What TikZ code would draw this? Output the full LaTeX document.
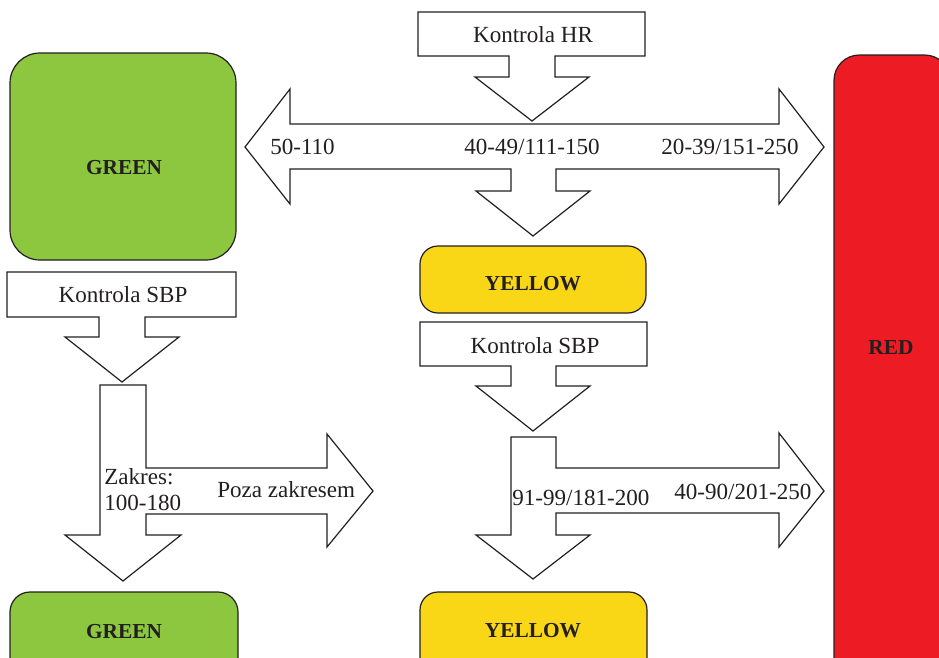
\documentclass[tikz,border=0pt]{standalone}
\usepackage{fontspec}
\setmainfont{Liberation Serif}
\definecolor{boxgreen}{RGB}{141,198,63}
\definecolor{boxyellow}{RGB}{249,215,22}
\definecolor{boxred}{RGB}{237,28,36}
\definecolor{inkgray}{RGB}{35,31,32}
\begin{document}
\begin{tikzpicture}[x=0.75pt,y=-0.75pt,
  outline/.style={draw=inkgray, line width=0.9pt, line join=miter},
  blockarrow/.style={outline, fill=white},
  lampbox/.style={outline},
  lbl/.style={font=\fontsize{17.3}{20}\selectfont, text=inkgray, inner sep=0pt, anchor=base},
  lampname/.style={font=\fontsize{16}{19}\selectfont\bfseries, text=inkgray, inner sep=0pt, anchor=base}
]
\useasboundingbox (0,0) rectangle (939,657);
\clip (0,0) rectangle (939,657);

% status boxes
\draw[lampbox, fill=boxgreen, rounded corners=22.5pt] (10,53) rectangle (236,260);
\draw[lampbox, fill=boxred, rounded corners=19pt] (834,55) rectangle (950,720);
\draw[lampbox, fill=boxyellow, rounded corners=13.5pt] (420,246) rectangle (646,313);
\draw[lampbox, fill=boxyellow, rounded corners=13.5pt] (420,592) rectangle (647,720);
\draw[lampbox, fill=boxgreen, rounded corners=15pt] (10,592) rectangle (238,720);

% heart rate check: box with downward arrow
\draw[blockarrow] (418,12) -- (645,12) -- (645,56) -- (555,56) -- (555,77) -- (589,77)
  -- (532,121) -- (475,77) -- (509,77) -- (509,56) -- (418,56) -- cycle;

% heart rate ranges: double arrow with branch down
\draw[blockarrow] (290,124) -- (779,124) -- (779,89) -- (824,147) -- (779,204) -- (779,169)
  -- (556,169) -- (556,191) -- (590,191) -- (533,236) -- (476,191) -- (511,191) -- (511,169)
  -- (290,169) -- (290,204) -- (245,147) -- (290,89) -- cycle;

% blood pressure check under GREEN
\draw[blockarrow] (7,272) -- (236,272) -- (236,317) -- (145,317) -- (145,337) -- (179,337)
  -- (122,382) -- (65,337) -- (99,337) -- (99,317) -- (7,317) -- cycle;
\draw[blockarrow] (100,385) -- (146,385) -- (146,468) -- (327,468) -- (327,434) -- (373,491)
  -- (327,547) -- (327,514) -- (146,514) -- (146,535) -- (181,535) -- (123,581) -- (65,535)
  -- (100,535) -- cycle;

% blood pressure check under YELLOW
\draw[blockarrow] (420,322) -- (647,322) -- (647,366) -- (556,366) -- (556,386) -- (590,386)
  -- (533,431) -- (476,386) -- (511,386) -- (511,366) -- (420,366) -- cycle;
\draw[blockarrow] (511,437) -- (556,437) -- (556,468) -- (779,468) -- (779,433) -- (824,491)
  -- (779,547) -- (779,513) -- (556,513) -- (556,535) -- (590,535) -- (533,579) -- (476,535)
  -- (511,535) -- cycle;

% labels
\node[lbl] (hr) at (533,42) {Kontrola HR};
\node[lbl, anchor=base west] (hrlow) at (270,154) {50-110};
\node[lbl] (hrmid) at (532,154) {40-49/111-150};
\node[lbl] (hrhigh) at (730,154) {20-39/151-250};
\node[lbl] (sbpA) at (123,302) {Kontrola SBP};
\node[lbl] (sbpB) at (535,353) {Kontrola SBP};
\node[lbl, anchor=base west] (rangeA) at (104,484) {Zakres:};
\node[lbl, anchor=base west] (rangeB) at (104,510) {100-180};
\node[lbl, anchor=base west] (outside) at (217,497) {Poza zakresem};
\node[lbl, anchor=base west] (sbpmid) at (512,505) {91-99/181-200};
\node[lbl, anchor=base west] (sbphigh) at (674,499) {40-90/201-250};

\node[lampname] (greenA) at (124,174) {GREEN};
\node[lampname] (yellowA) at (533,290) {YELLOW};
\node[lampname] (red) at (891,354) {RED};
\node[lampname] (yellowB) at (533,637) {YELLOW};
\node[lampname] (greenB) at (124,638) {GREEN};
\end{tikzpicture}
\end{document}
